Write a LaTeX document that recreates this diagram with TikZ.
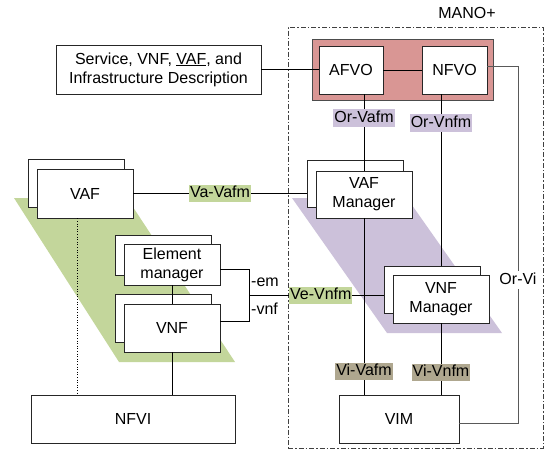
\documentclass[tikz,border=0pt]{standalone}
\usepackage{fontspec}
\setmainfont{Liberation Sans}
\usetikzlibrary{calc}
\definecolor{orchred}{HTML}{D99694}
\definecolor{vafgreen}{HTML}{C3D69B}
\definecolor{mgrpurple}{HTML}{CCC1DA}
\definecolor{vitaupe}{HTML}{AFA78F}
\definecolor{edge}{HTML}{262626}
\tikzset{
  box/.style={draw=edge, fill=white, line width=0.8pt, inner sep=0pt, align=center,
    minimum width=96pt, minimum height=48pt},
  conn/.style={draw=black, line width=0.8pt},
  lbl/.style={inner sep=1pt, text height=12pt, text depth=3.5pt},
  greenlbl/.style={lbl, fill=vafgreen},
  purplelbl/.style={lbl, fill=mgrpurple},
  taupelbl/.style={lbl, fill=vitaupe},
}
\begin{document}
\begin{tikzpicture}[x=1pt, y=-1pt, font=\fontsize{16}{19}\selectfont]
\useasboundingbox (0,0) rectangle (546,451);

% domain planes behind the managed functions and the managers
\fill[vafgreen] (14,198) -- (127,198) -- (235,362) -- (119,362) -- cycle;
\fill[mgrpurple] (292,198) -- (407,198) -- (502,333) -- (387,333) -- cycle;

% MANO+ boundary
\node[draw=black!75, line width=0.8pt, dash pattern=on 5pt off 2pt on 1.5pt off 2pt,
      minimum width=255pt, minimum height=421pt, inner sep=0pt] (mano) at (415.5,237.5) {};
\node (manolabel) at (467,13) {MANO+};

% descriptors
\node[box, minimum width=205pt, minimum height=49pt] (desc) at (158.5,69.5)
  {Service, VNF, \underline{VAF}, and\\Infrastructure Description};

% orchestrators
\node[draw=black!70, fill=orchred, line width=1pt, minimum width=181pt, minimum height=61pt, inner sep=0pt]
  (orch) at (402.5,69.5) {};
\node[box, minimum width=64pt] (afvo) at (351,70) {AFVO};
\node[box, minimum width=65pt] (nfvo) at (454.5,70) {NFVO};

% managers (stacked instances)
\node[box, minimum height=47pt] (vafmb) at (355,183.5) {};
\node[box, minimum height=47pt] (vafm) at (364,194.5) {VAF\\Manager};
\node[box, minimum height=47pt] (vnfmb) at (432,289.5) {};
\node[box] (vnfm) at (441,299) {VNF\\Manager};
\node[box, minimum width=120pt] (vim) at (399,419) {VIM};

% managed functions (stacked instances)
\node[box] (vafb) at (76,183) {};
\node[box, minimum height=49pt] (vaf) at (85,193.5) {VAF};
\node[box, minimum height=40pt] (emb) at (163,255) {};
\node[box, minimum height=41pt] (em) at (172,264.5) {Element\\manager};
\node[box] (vnfb) at (163,318) {};
\node[box] (vnf) at (172,328) {VNF};
\node[box, minimum width=204pt] (nfvi) at (133,419) {NFVI};

% helper points
\coordinate (ov1) at (518,66);
\coordinate (ov2) at (518,423);
\coordinate (br1) at (249,269);
\coordinate (br2) at (249,321);
\coordinate (brm) at (249,295.5);
\coordinate (dt) at (77,0);

% reference points
\draw[conn] (desc.east) -- (desc.east -| afvo.west);
\draw[conn] (afvo.east) -- (nfvo.west);
\draw[conn] (vafm.north |- afvo.south) -- node[purplelbl, pos=0.31] {Or-Vafm} (vafm.north);
\draw[conn] (vnfm.north |- nfvo.south) -- node[purplelbl, pos=0.166] {Or-Vnfm} (vnfm.north |- vnfmb.north);
\draw[conn] (vafm.south) -- node[taupelbl, pos=0.87] {Vi-Vafm} (vafm.south |- vim.north);
\draw[conn] (vnfm.south) -- node[taupelbl, pos=0.69] {Vi-Vnfm} (vnfm.south |- vim.north);
\draw[conn, draw=black!65] (nfvo.east |- ov1) -- (ov1)
  -- node[lbl, fill=white, pos=0.6] {Or-Vi} (ov2) -- (vim.east |- ov2);
\draw[conn] (vaf.east) -- node[greenlbl] {Va-Vafm} (vaf.east -| vafmb.west);
\draw[conn] (em.east |- br1) -- (br1) -- (br2) -- (vnf.east |- br2);
\draw[conn] (brm) -- node[greenlbl, pos=0.533] {Ve-Vnfm} (brm -| vnfmb.west);
\node[anchor=west, inner sep=0pt] (emtag) at (251,282) {-em};
\node[anchor=west, inner sep=0pt] (vnftag) at (251,309) {-vnf};
\draw[conn] (em.south) -- (vnf.north);
\draw[conn] (vnf.south) -- (vnf.south |- nfvi.north);
\draw[line width=0.6pt, dotted] (vaf.south -| dt) -- (nfvi.north -| dt);
\end{tikzpicture}
\end{document}
